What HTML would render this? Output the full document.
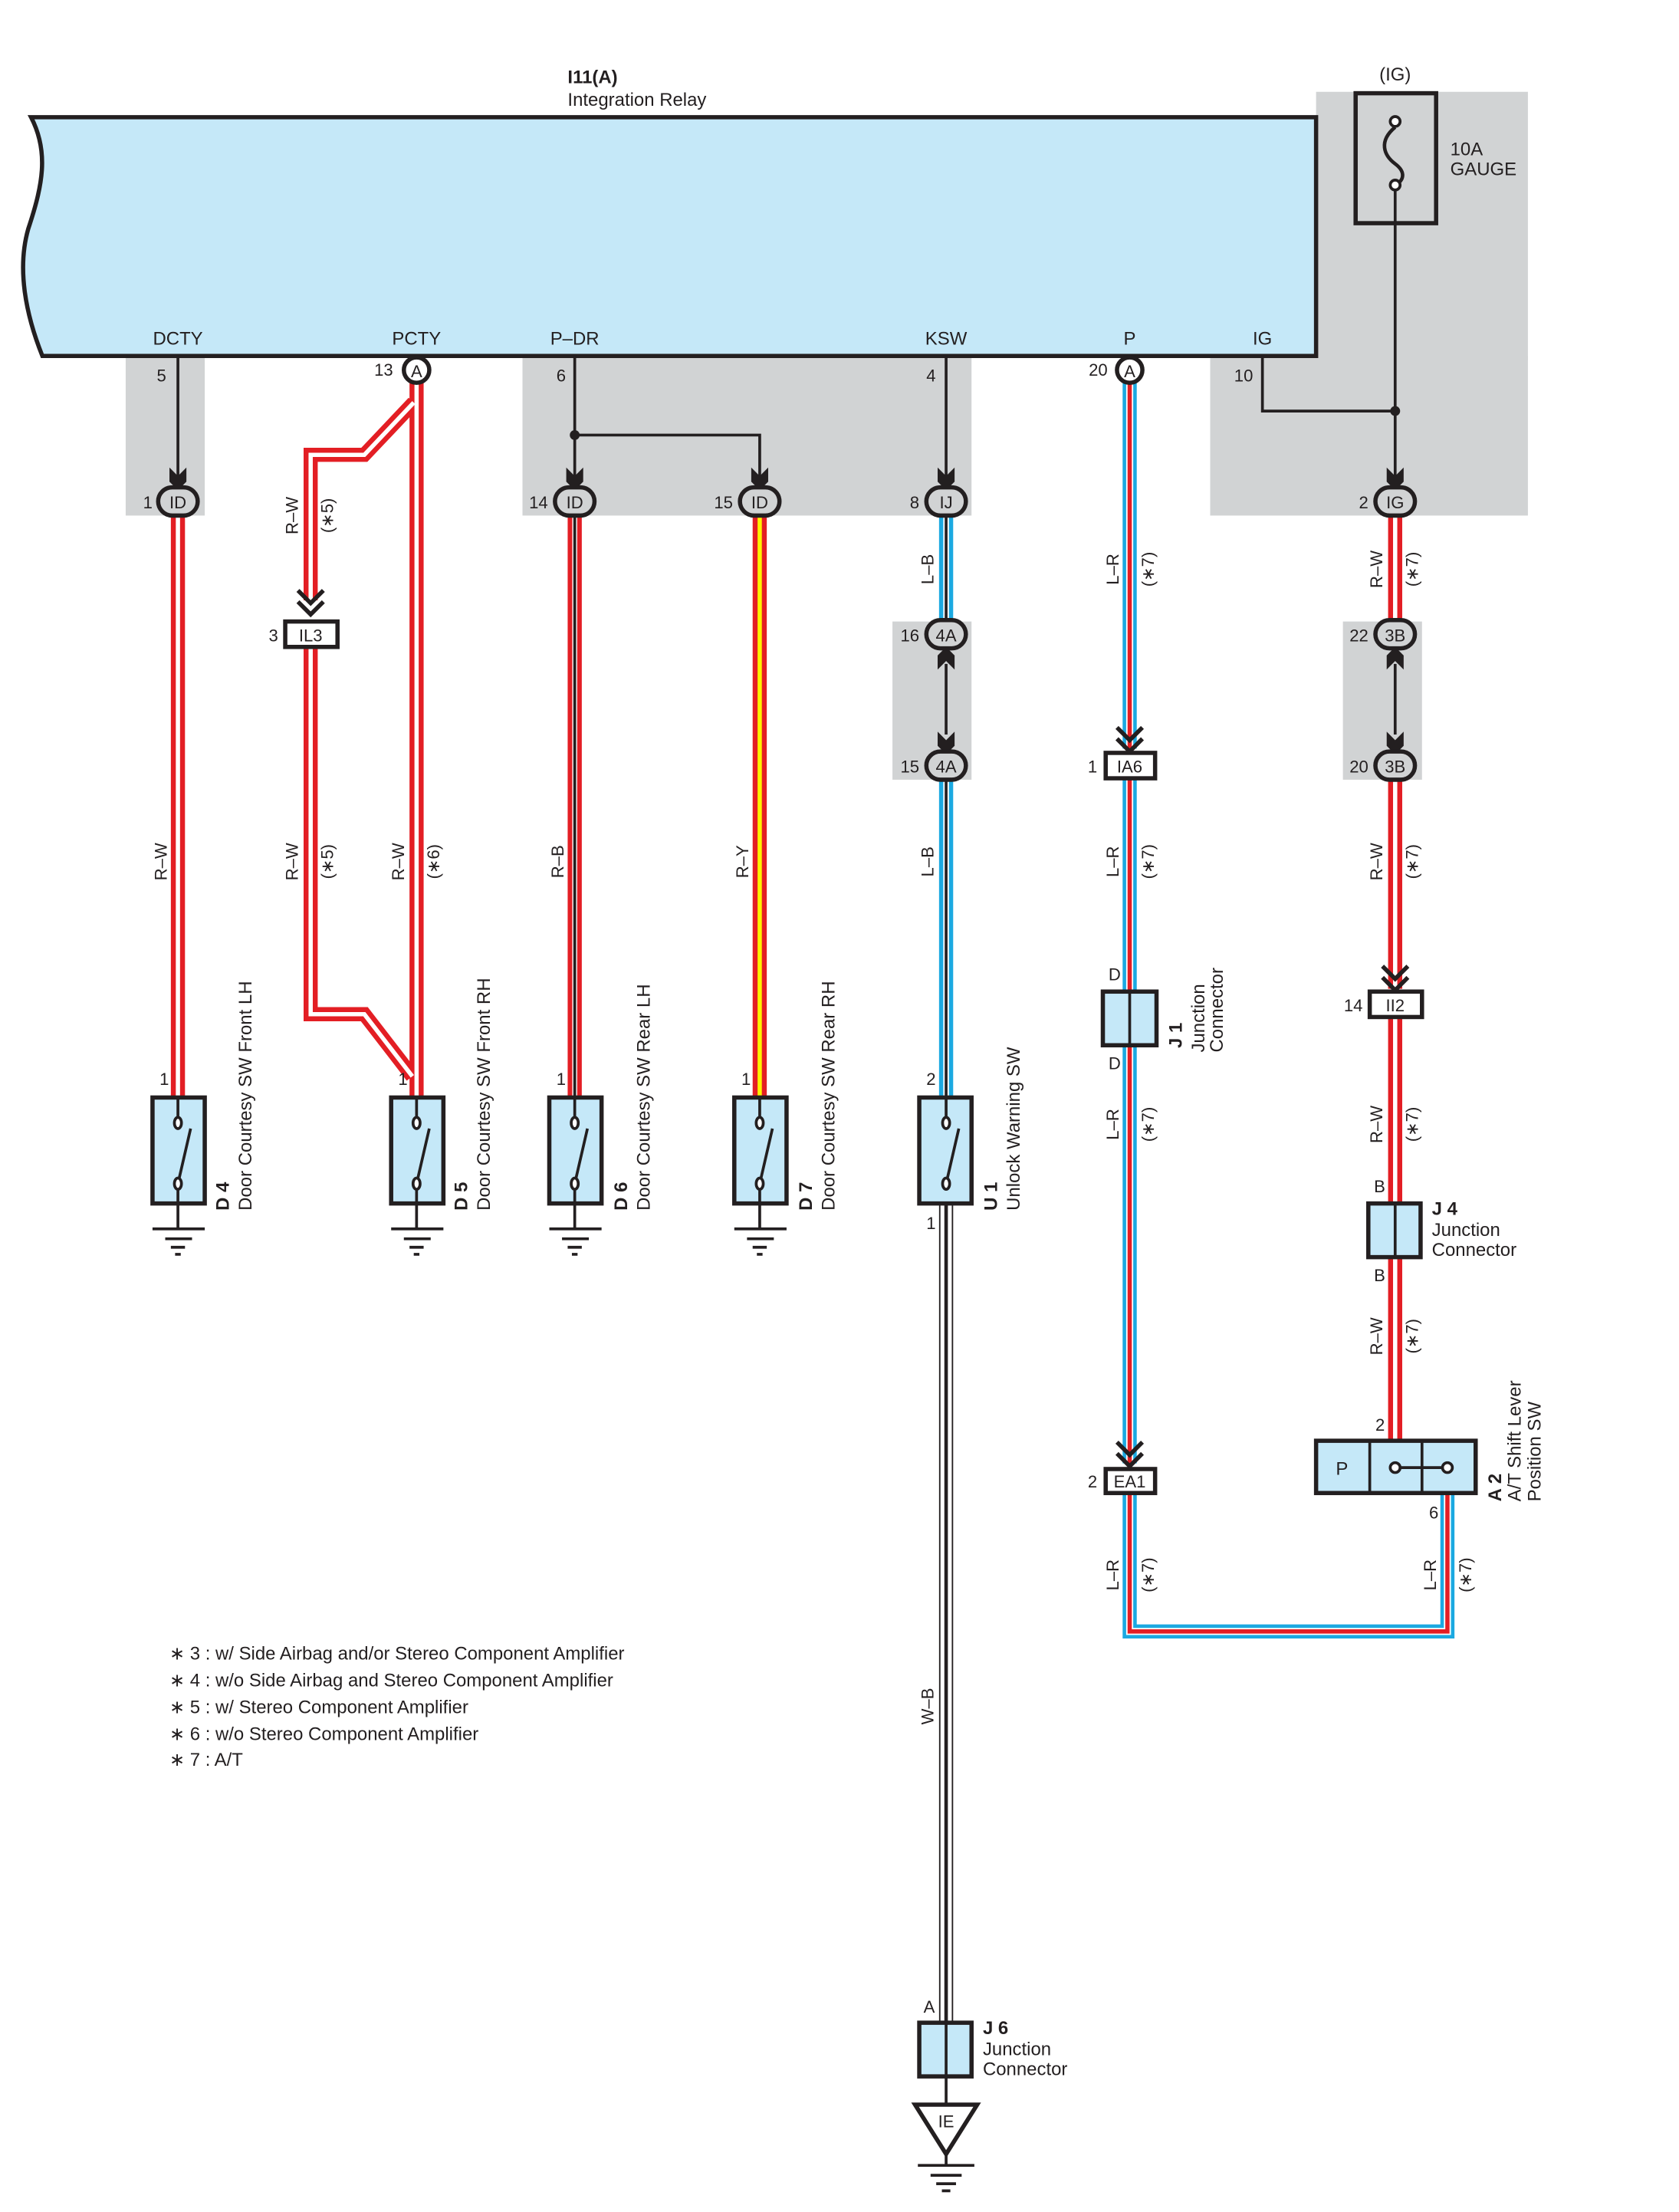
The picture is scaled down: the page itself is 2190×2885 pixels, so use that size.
<!DOCTYPE html>
<html><head><meta charset="utf-8"><style>
html,body{margin:0;padding:0;background:#fff}
svg{display:block}
text{font-family:"Liberation Sans",sans-serif;fill:#231f20}
</style></head><body>
<svg width="2190" height="2885" viewBox="0 0 1189 1566" preserveAspectRatio="none" xmlns="http://www.w3.org/2000/svg">
<defs>
<path id="w1" d="M126,365 V777"/>
<path id="w2a" d="M295,271 V777"/>
<path id="w2b" d="M293,285 L258,322 H220 V425"/>
<path id="w2c" d="M220,458 V718 H258 L292,762"/>
<path id="w3" d="M407,365 V777"/>
<path id="w4" d="M538,365 V777"/>
<path id="w5a" d="M670,365 V440"/>
<path id="w5b" d="M670,552 V777"/>
<path id="w6a" d="M800,271 V530"/>
<path id="w6b" d="M800,551 V1036"/>
<path id="w6c" d="M800,1057 V1155 H1025 V1057"/>
<path id="w7a" d="M988,365 V440"/>
<path id="w7b" d="M988,552 V700"/>
<path id="w7c" d="M988,720 V1020"/>
<path id="w8" d="M670,852 V1432"/>
</defs>

<g fill="#d1d3d4">
<rect x="89" y="252" width="56" height="113"/>
<rect x="370" y="252" width="318" height="113"/>
<rect x="932" y="65" width="150" height="190"/>
<rect x="857" y="252" width="225" height="113"/>
<rect x="632" y="440" width="56" height="112"/>
<rect x="951" y="440" width="56" height="112"/>
</g>

<path d="M22,83 L932,83 L932,252 L30,252 C18,222 12,190 20,162 C30,132 35,108 22,83 Z" fill="#c5e8f8" stroke="#231f20" stroke-width="3"/>
<text x="402" y="59" font-size="13" font-weight="bold">I11(A)</text>
<text x="402" y="75" font-size="13">Integration Relay</text>
<g font-size="13" text-anchor="middle">
<text x="126" y="244">DCTY</text><text x="295" y="244">PCTY</text><text x="407" y="244">P–DR</text>
<text x="670" y="244">KSW</text><text x="800" y="244">P</text><text x="894" y="244">IG</text>
</g>

<rect x="960" y="66" width="57" height="92" fill="none" stroke="#231f20" stroke-width="3"/>
<path d="M988,90 C976,100 980,110 988,116 C996,122 994,128 988,131" fill="none" stroke="#231f20" stroke-width="2.5"/>
<circle cx="988" cy="86" r="3.5" fill="#fff" stroke="#231f20" stroke-width="2"/>
<circle cx="988" cy="131" r="3.5" fill="#fff" stroke="#231f20" stroke-width="2"/>
<text x="988" y="57" font-size="13" text-anchor="middle">(IG)</text>
<text x="1027" y="110" font-size="13">10A</text>
<text x="1027" y="124" font-size="13">GAUGE</text>

<g stroke="#231f20" stroke-width="2" fill="none">
<path d="M126,252 V340"/>
<path d="M407,252 V340 M407,308 H538 V340"/>
<path d="M670,252 V340"/>
<path d="M894,252 V291 H988"/>
<path d="M988,135 V340"/>
<path d="M670,470 V520"/>
<path d="M988,470 V520"/>
</g>
<circle cx="407" cy="308" r="3.5" fill="#231f20"/>
<circle cx="988" cy="291" r="3.5" fill="#231f20"/>
<g font-size="12">
<text x="111" y="270">5</text><text x="394" y="270">6</text><text x="656" y="270">4</text><text x="874" y="270">10</text>
<text x="265" y="266">13</text><text x="771" y="266">20</text>
</g>

<g fill="none">
<g stroke="#e31e24" stroke-width="10"><use href="#w1"/><use href="#w2a"/><use href="#w2b"/><use href="#w2c"/><use href="#w3"/><use href="#w4"/><use href="#w7a"/><use href="#w7b"/><use href="#w7c"/></g>
<g stroke="#fff" stroke-width="3"><use href="#w1"/><use href="#w2a"/><use href="#w2b"/><use href="#w2c"/><use href="#w7a"/><use href="#w7b"/><use href="#w7c"/></g>
<g stroke="#fff" stroke-width="3.5"><use href="#w3"/></g>
<g stroke="#231f20" stroke-width="2"><use href="#w3"/></g>
<g stroke="#fff200" stroke-width="3"><use href="#w4"/></g>
<g stroke="#1ba9e1" stroke-width="10"><use href="#w5a"/><use href="#w5b"/><use href="#w6a"/><use href="#w6b"/><use href="#w6c"/></g>
<g stroke="#fff" stroke-width="5"><use href="#w6a"/><use href="#w6b"/><use href="#w6c"/></g>
<g stroke="#e31e24" stroke-width="3"><use href="#w6a"/><use href="#w6b"/><use href="#w6c"/></g>
<g stroke="#fff" stroke-width="4"><use href="#w5a"/><use href="#w5b"/></g>
<g stroke="#231f20" stroke-width="2"><use href="#w5a"/><use href="#w5b"/></g>
<g stroke="#231f20" stroke-width="10"><use href="#w8"/></g>
<g stroke="#fff" stroke-width="8"><use href="#w8"/></g>
<g stroke="#231f20" stroke-width="2.5"><use href="#w8"/></g>
</g>

<g fill="#231f20">
<polygon points="120,331 126,337 132,331 132,341 126,347 120,341"/>
<polygon points="401,331 407,337 413,331 413,341 407,347 401,341"/>
<polygon points="532,331 538,337 544,331 544,341 538,347 532,341"/>
<polygon points="664,331 670,337 676,331 676,341 670,347 664,341"/>
<polygon points="982,331 988,337 994,331 994,341 988,347 982,341"/>
<polygon points="664,518 670,524 676,518 676,528 670,534 664,528"/>
<polygon points="982,518 988,524 994,518 994,528 988,534 982,528"/>
<polygon points="664,474 670,468 676,474 676,464 670,458 664,464"/>
<polygon points="982,474 988,468 994,474 994,464 988,458 982,464"/>
</g>
<g fill="none" stroke="#231f20" stroke-width="3">
<path d="M211,418 L220,427 L229,418 M211,426 L220,435 L229,426"/>
<path d="M791,515 L800,524 L809,515 M791,523 L800,532 L809,523"/>
<path d="M791,1021 L800,1030 L809,1021 M791,1029 L800,1038 L809,1029"/>
<path d="M979,684 L988,693 L997,684 M979,692 L988,701 L997,692"/>
</g>

<g stroke="#231f20" stroke-width="3" fill="#d1d3d4">
<rect x="112" y="345" width="28" height="20" rx="10"/>
<rect x="393" y="345" width="28" height="20" rx="10"/>
<rect x="524" y="345" width="28" height="20" rx="10"/>
<rect x="656" y="345" width="28" height="20" rx="10"/>
<rect x="974" y="345" width="28" height="20" rx="10"/>
<rect x="656" y="439" width="28" height="20" rx="10"/>
<rect x="656" y="532" width="28" height="20" rx="10"/>
<rect x="974" y="439" width="28" height="20" rx="10"/>
<rect x="974" y="532" width="28" height="20" rx="10"/>
</g>
<g stroke="#231f20" stroke-width="3" fill="#fff">
<circle cx="295" cy="262" r="9"/><circle cx="800" cy="262" r="9"/>
<rect x="202" y="440" width="37" height="18"/>
<rect x="783" y="533" width="35" height="18"/>
<rect x="783" y="1040" width="35" height="17"/>
<rect x="970" y="702" width="37" height="18"/>
</g>
<g font-size="12" text-anchor="middle">
<text x="295" y="267">A</text><text x="800" y="267">A</text>
<text x="126" y="360">ID</text><text x="407" y="360">ID</text><text x="538" y="360">ID</text>
<text x="670" y="360">IJ</text><text x="988" y="360">IG</text>
<text x="670" y="454">4A</text><text x="670" y="547">4A</text>
<text x="988" y="454">3B</text><text x="988" y="547">3B</text>
<text x="220" y="454">IL3</text><text x="800" y="547">IA6</text><text x="800" y="1053">EA1</text><text x="988" y="716">II2</text>
</g>
<g font-size="12" text-anchor="end">
<text x="108" y="360">1</text><text x="388" y="360">14</text><text x="519" y="360">15</text><text x="651" y="360">8</text><text x="969" y="360">2</text>
<text x="651" y="454">16</text><text x="651" y="547">15</text><text x="969" y="454">22</text><text x="969" y="547">20</text>
<text x="197" y="454">3</text><text x="777" y="547">1</text><text x="777" y="1053">2</text><text x="965" y="716">14</text>
</g>

<g stroke="#231f20" fill="#c5e8f8" stroke-width="3">
<rect x="108" y="777" width="37" height="75"/>
<rect x="277" y="777" width="37" height="75"/>
<rect x="389" y="777" width="37" height="75"/>
<rect x="520" y="777" width="37" height="75"/>
<rect x="651" y="777" width="37" height="75"/>
</g>
<g stroke="#231f20" stroke-width="2" fill="none">
<path d="M126,777 V791 M126,842 V870 M108,870 H145 M117,877 H136 M121,883 H131 M124,888 H128 M126,838 L135,799"/>
<path d="M295,777 V791 M295,842 V870 M277,870 H314 M286,877 H305 M290,883 H300 M293,888 H297 M295,838 L304,799"/>
<path d="M407,777 V791 M407,842 V870 M389,870 H426 M398,877 H417 M402,883 H412 M405,888 H409 M407,838 L416,799"/>
<path d="M538,777 V791 M538,842 V870 M520,870 H557 M529,877 H548 M533,883 H543 M536,888 H540 M538,838 L547,799"/>
<path d="M670,777 V791 M670,838 L679,799"/>
</g>
<g stroke="#231f20" stroke-width="2" fill="#fff">
<ellipse cx="126" cy="795" rx="2.5" ry="4"/><ellipse cx="126" cy="838" rx="2.5" ry="4"/>
<ellipse cx="295" cy="795" rx="2.5" ry="4"/><ellipse cx="295" cy="838" rx="2.5" ry="4"/>
<ellipse cx="407" cy="795" rx="2.5" ry="4"/><ellipse cx="407" cy="838" rx="2.5" ry="4"/>
<ellipse cx="538" cy="795" rx="2.5" ry="4"/><ellipse cx="538" cy="838" rx="2.5" ry="4"/>
<ellipse cx="670" cy="795" rx="2.5" ry="4"/><ellipse cx="670" cy="838" rx="2.5" ry="4"/>
</g>
<g stroke="#231f20" stroke-width="3" fill="#c5e8f8">
<rect x="781" y="702" width="38" height="38"/>
<rect x="969" y="852" width="37" height="38"/>
<rect x="651" y="1432" width="37" height="38"/>
<rect x="932" y="1020" width="113" height="37"/>
</g>
<g stroke="#231f20" stroke-width="2" fill="none">
<path d="M800,702 V740 M988,852 V890 M670,1432 V1470 V1490 M970,1020 V1057 M1007,1020 V1057 M988,1039 H1025"/>
<path d="M650,1533 H690 M659,1540 H681 M663,1546 H677 M667,1551 H673"/>
</g>
<circle cx="988" cy="1039" r="3.5" fill="#fff" stroke="#231f20" stroke-width="2"/>
<circle cx="1025" cy="1039" r="3.5" fill="#fff" stroke="#231f20" stroke-width="2"/>
<path d="M648,1490 H692 L670,1525 Z" fill="#fff" stroke="#231f20" stroke-width="3"/>
<path d="M670,1525 V1533" stroke="#231f20" stroke-width="2"/>
<text x="670" y="1506" font-size="12" text-anchor="middle">IE</text>
<text x="946" y="1044" font-size="13">P</text>

<g font-size="12">
<text x="113" y="768">1</text><text x="282" y="768">1</text><text x="394" y="768">1</text><text x="525" y="768">1</text><text x="656" y="768">2</text>
<text x="656" y="870">1</text><text x="654" y="1425">A</text>
<text x="785" y="694">D</text><text x="785" y="757">D</text>
<text x="973" y="844">B</text><text x="973" y="907">B</text>
<text x="974" y="1013">2</text><text x="1012" y="1075">6</text>
</g>
<text x="696" y="1440" font-size="13" font-weight="bold">J 6</text>
<text x="696" y="1455" font-size="13">Junction</text>
<text x="696" y="1469" font-size="13">Connector</text>
<text x="1014" y="860" font-size="13" font-weight="bold">J 4</text>
<text x="1014" y="875" font-size="13">Junction</text>
<text x="1014" y="889" font-size="13">Connector</text>

<g font-size="13">
<text transform="translate(162,857) rotate(-90)" font-weight="bold">D 4</text>
<text transform="translate(178,857) rotate(-90)">Door Courtesy SW Front LH</text>
<text transform="translate(331,857) rotate(-90)" font-weight="bold">D 5</text>
<text transform="translate(347,857) rotate(-90)">Door Courtesy SW Front RH</text>
<text transform="translate(444,857) rotate(-90)" font-weight="bold">D 6</text>
<text transform="translate(460,857) rotate(-90)">Door Courtesy SW Rear LH</text>
<text transform="translate(575,857) rotate(-90)" font-weight="bold">D 7</text>
<text transform="translate(591,857) rotate(-90)">Door Courtesy SW Rear RH</text>
<text transform="translate(706,857) rotate(-90)" font-weight="bold">U 1</text>
<text transform="translate(722,857) rotate(-90)">Unlock Warning SW</text>
<text transform="translate(837,742) rotate(-90)" font-weight="bold">J 1</text>
<text transform="translate(853,745) rotate(-90)">Junction</text>
<text transform="translate(866,745) rotate(-90)">Connector</text>
<text transform="translate(1063,1063) rotate(-90)" font-weight="bold">A 2</text>
<text transform="translate(1077,1063) rotate(-90)">A/T Shift Lever</text>
<text transform="translate(1091,1063) rotate(-90)">Position SW</text>
</g>

<g font-size="12" text-anchor="middle">
<text transform="translate(118,610) rotate(-90)">R–W</text>
<text transform="translate(211,365) rotate(-90)">R–W</text><text transform="translate(236,365) rotate(-90)">(∗5)</text>
<text transform="translate(211,610) rotate(-90)">R–W</text><text transform="translate(236,610) rotate(-90)">(∗5)</text>
<text transform="translate(286,610) rotate(-90)">R–W</text><text transform="translate(311,610) rotate(-90)">(∗6)</text>
<text transform="translate(399,610) rotate(-90)">R–B</text>
<text transform="translate(530,610) rotate(-90)">R–Y</text>
<text transform="translate(661,403) rotate(-90)">L–B</text>
<text transform="translate(661,610) rotate(-90)">L–B</text>
<text transform="translate(792,403) rotate(-90)">L–R</text><text transform="translate(817,403) rotate(-90)">(∗7)</text>
<text transform="translate(792,610) rotate(-90)">L–R</text><text transform="translate(817,610) rotate(-90)">(∗7)</text>
<text transform="translate(792,796) rotate(-90)">L–R</text><text transform="translate(817,796) rotate(-90)">(∗7)</text>
<text transform="translate(792,1115) rotate(-90)">L–R</text><text transform="translate(817,1115) rotate(-90)">(∗7)</text>
<text transform="translate(1017,1115) rotate(-90)">L–R</text><text transform="translate(1042,1115) rotate(-90)">(∗7)</text>
<text transform="translate(979,403) rotate(-90)">R–W</text><text transform="translate(1004,403) rotate(-90)">(∗7)</text>
<text transform="translate(979,610) rotate(-90)">R–W</text><text transform="translate(1004,610) rotate(-90)">(∗7)</text>
<text transform="translate(979,796) rotate(-90)">R–W</text><text transform="translate(1004,796) rotate(-90)">(∗7)</text>
<text transform="translate(979,946) rotate(-90)">R–W</text><text transform="translate(1004,946) rotate(-90)">(∗7)</text>
<text transform="translate(661,1208) rotate(-90)">W–B</text>
</g>

<g font-size="13">
<text x="120" y="1175">∗ 3 : w/ Side Airbag and/or Stereo Component Amplifier</text>
<text x="120" y="1194">∗ 4 : w/o Side Airbag and Stereo Component Amplifier</text>
<text x="120" y="1213">∗ 5 : w/ Stereo Component Amplifier</text>
<text x="120" y="1232">∗ 6 : w/o Stereo Component Amplifier</text>
<text x="120" y="1250">∗ 7 : A/T</text>
</g>
</svg>
</body></html>
